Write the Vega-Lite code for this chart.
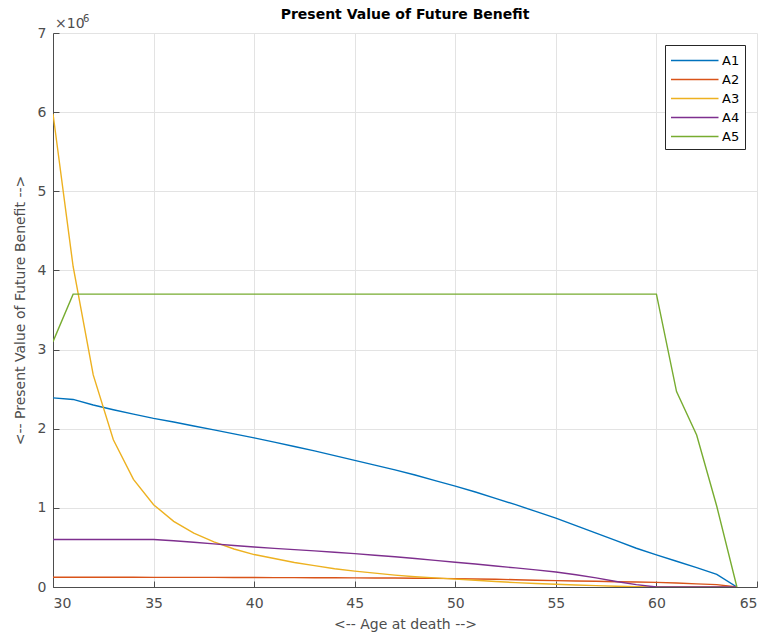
{
  "$schema": "https://vega.github.io/schema/vega-lite/v6.json",
  "width": 704,
  "height": 554,
  "autosize": {"type": "none"},
  "padding": {"left": 53, "top": 33, "right": 9, "bottom": 55},
  "background": "white",
  "title": {"text": "Present Value of Future Benefit", "font": "DejaVu Sans", "fontSize": 14, "fontWeight": "bold", "color": "#000000", "offset": -8},
  "config": {
    "view": {"stroke": null},
    "axis": {"labelFont": "DejaVu Sans", "titleFont": "DejaVu Sans", "labelFontSize": 14, "titleFontSize": 14, "labelColor": "#4d4d4d", "titleColor": "#4d4d4d", "titleFontWeight": "normal", "domainColor": "#4d4d4d", "tickColor": "#4d4d4d", "gridColor": "#e3e3e3", "gridWidth": 1, "domainWidth": 1}
  },
  "datasets": {
    "main": [
      {"age":30,"series":"A1","value":2390000},{"age":31,"series":"A1","value":2370000},{"age":32,"series":"A1","value":2300000},{"age":33,"series":"A1","value":2240000},{"age":34,"series":"A1","value":2185000},{"age":35,"series":"A1","value":2130000},{"age":36,"series":"A1","value":2085000},{"age":37,"series":"A1","value":2035000},{"age":38,"series":"A1","value":1985000},{"age":39,"series":"A1","value":1935000},{"age":40,"series":"A1","value":1885000},{"age":41,"series":"A1","value":1830000},{"age":42,"series":"A1","value":1775000},{"age":43,"series":"A1","value":1720000},{"age":44,"series":"A1","value":1660000},{"age":45,"series":"A1","value":1600000},{"age":46,"series":"A1","value":1540000},{"age":47,"series":"A1","value":1480000},{"age":48,"series":"A1","value":1415000},{"age":49,"series":"A1","value":1345000},{"age":50,"series":"A1","value":1275000},{"age":51,"series":"A1","value":1200000},{"age":52,"series":"A1","value":1120000},{"age":53,"series":"A1","value":1040000},{"age":54,"series":"A1","value":955000},{"age":55,"series":"A1","value":870000},{"age":56,"series":"A1","value":775000},{"age":57,"series":"A1","value":680000},{"age":58,"series":"A1","value":585000},{"age":59,"series":"A1","value":490000},{"age":60,"series":"A1","value":405000},{"age":61,"series":"A1","value":325000},{"age":62,"series":"A1","value":245000},{"age":63,"series":"A1","value":160000},{"age":64,"series":"A1","value":0},
      {"age":30,"series":"A2","value":123000},{"age":31,"series":"A2","value":123000},{"age":32,"series":"A2","value":123000},{"age":33,"series":"A2","value":123000},{"age":34,"series":"A2","value":123000},{"age":35,"series":"A2","value":122000},{"age":36,"series":"A2","value":122000},{"age":37,"series":"A2","value":122000},{"age":38,"series":"A2","value":121000},{"age":39,"series":"A2","value":120000},{"age":40,"series":"A2","value":120000},{"age":41,"series":"A2","value":119000},{"age":42,"series":"A2","value":118000},{"age":43,"series":"A2","value":117000},{"age":44,"series":"A2","value":116000},{"age":45,"series":"A2","value":115000},{"age":46,"series":"A2","value":114000},{"age":47,"series":"A2","value":113000},{"age":48,"series":"A2","value":111000},{"age":49,"series":"A2","value":109000},{"age":50,"series":"A2","value":106000},{"age":51,"series":"A2","value":102000},{"age":52,"series":"A2","value":97000},{"age":53,"series":"A2","value":92000},{"age":54,"series":"A2","value":86000},{"age":55,"series":"A2","value":80000},{"age":56,"series":"A2","value":76000},{"age":57,"series":"A2","value":72000},{"age":58,"series":"A2","value":67000},{"age":59,"series":"A2","value":63000},{"age":60,"series":"A2","value":58000},{"age":61,"series":"A2","value":50000},{"age":62,"series":"A2","value":40000},{"age":63,"series":"A2","value":30000},{"age":64,"series":"A2","value":0},
      {"age":30,"series":"A3","value":5980000},{"age":31,"series":"A3","value":4050000},{"age":32,"series":"A3","value":2680000},{"age":33,"series":"A3","value":1860000},{"age":34,"series":"A3","value":1360000},{"age":35,"series":"A3","value":1040000},{"age":36,"series":"A3","value":830000},{"age":37,"series":"A3","value":680000},{"age":38,"series":"A3","value":570000},{"age":39,"series":"A3","value":480000},{"age":40,"series":"A3","value":410000},{"age":41,"series":"A3","value":360000},{"age":42,"series":"A3","value":310000},{"age":43,"series":"A3","value":270000},{"age":44,"series":"A3","value":230000},{"age":45,"series":"A3","value":200000},{"age":46,"series":"A3","value":175000},{"age":47,"series":"A3","value":150000},{"age":48,"series":"A3","value":130000},{"age":49,"series":"A3","value":115000},{"age":50,"series":"A3","value":100000},{"age":51,"series":"A3","value":85000},{"age":52,"series":"A3","value":70000},{"age":53,"series":"A3","value":55000},{"age":54,"series":"A3","value":45000},{"age":55,"series":"A3","value":35000},{"age":56,"series":"A3","value":25000},{"age":57,"series":"A3","value":18000},{"age":58,"series":"A3","value":10000},{"age":59,"series":"A3","value":5000},{"age":60,"series":"A3","value":0},{"age":61,"series":"A3","value":0},{"age":62,"series":"A3","value":0},{"age":63,"series":"A3","value":0},{"age":64,"series":"A3","value":0},
      {"age":30,"series":"A4","value":600000},{"age":31,"series":"A4","value":600000},{"age":32,"series":"A4","value":600000},{"age":33,"series":"A4","value":600000},{"age":34,"series":"A4","value":600000},{"age":35,"series":"A4","value":600000},{"age":36,"series":"A4","value":585000},{"age":37,"series":"A4","value":565000},{"age":38,"series":"A4","value":545000},{"age":39,"series":"A4","value":525000},{"age":40,"series":"A4","value":505000},{"age":41,"series":"A4","value":488000},{"age":42,"series":"A4","value":472000},{"age":43,"series":"A4","value":456000},{"age":44,"series":"A4","value":440000},{"age":45,"series":"A4","value":422000},{"age":46,"series":"A4","value":402000},{"age":47,"series":"A4","value":382000},{"age":48,"series":"A4","value":360000},{"age":49,"series":"A4","value":336000},{"age":50,"series":"A4","value":312000},{"age":51,"series":"A4","value":290000},{"age":52,"series":"A4","value":266000},{"age":53,"series":"A4","value":241000},{"age":54,"series":"A4","value":216000},{"age":55,"series":"A4","value":190000},{"age":56,"series":"A4","value":155000},{"age":57,"series":"A4","value":115000},{"age":58,"series":"A4","value":70000},{"age":59,"series":"A4","value":30000},{"age":60,"series":"A4","value":0},{"age":61,"series":"A4","value":0},{"age":62,"series":"A4","value":0},{"age":63,"series":"A4","value":0},{"age":64,"series":"A4","value":0},
      {"age":30,"series":"A5","value":3100000},{"age":31,"series":"A5","value":3700000},{"age":32,"series":"A5","value":3700000},{"age":33,"series":"A5","value":3700000},{"age":34,"series":"A5","value":3700000},{"age":35,"series":"A5","value":3700000},{"age":36,"series":"A5","value":3700000},{"age":37,"series":"A5","value":3700000},{"age":38,"series":"A5","value":3700000},{"age":39,"series":"A5","value":3700000},{"age":40,"series":"A5","value":3700000},{"age":41,"series":"A5","value":3700000},{"age":42,"series":"A5","value":3700000},{"age":43,"series":"A5","value":3700000},{"age":44,"series":"A5","value":3700000},{"age":45,"series":"A5","value":3700000},{"age":46,"series":"A5","value":3700000},{"age":47,"series":"A5","value":3700000},{"age":48,"series":"A5","value":3700000},{"age":49,"series":"A5","value":3700000},{"age":50,"series":"A5","value":3700000},{"age":51,"series":"A5","value":3700000},{"age":52,"series":"A5","value":3700000},{"age":53,"series":"A5","value":3700000},{"age":54,"series":"A5","value":3700000},{"age":55,"series":"A5","value":3700000},{"age":56,"series":"A5","value":3700000},{"age":57,"series":"A5","value":3700000},{"age":58,"series":"A5","value":3700000},{"age":59,"series":"A5","value":3700000},{"age":60,"series":"A5","value":3700000},{"age":61,"series":"A5","value":2470000},{"age":62,"series":"A5","value":1920000},{"age":63,"series":"A5","value":1020000},{"age":64,"series":"A5","value":0}
    ],
    "exp": [{"age": 30, "value": 7000000, "base": "×10", "sup": "6"}]
  },
  "layer": [
    {
      "data": {"name": "main"},
      "mark": {"type": "line", "strokeWidth": 1.4, "clip": true},
      "encoding": {
        "x": {"field": "age", "type": "quantitative", "scale": {"domain": [30, 65], "nice": false, "zero": false},
          "axis": {"title": "<-- Age at death -->", "values": [30,35,40,45,50,55,60,65], "tickSize": -6, "labelPadding": 15, "titlePadding": 7, "grid": true}},
        "y": {"field": "value", "type": "quantitative", "scale": {"domain": [0, 7000000], "nice": false},
          "axis": {"title": "<-- Present Value of Future Benefit -->", "values": [0,1000000,2000000,3000000,4000000,5000000,6000000,7000000], "labelExpr": "format(datum.value/1000000, 'd')", "tickSize": -6, "labelPadding": 13, "titlePadding": 10, "grid": true}},
        "color": {"field": "series", "type": "nominal",
          "scale": {"domain": ["A1","A2","A3","A4","A5"], "range": ["#0072BD","#D95319","#EDB120","#7E2F8E","#77AC30"]},
          "legend": {"title": null, "orient": "top-right", "offset": 12, "symbolType": "M-1,0H4", "symbolSize": 361, "symbolStrokeWidth": 1.5, "labelFont": "DejaVu Sans", "labelFontSize": 13, "labelColor": "#000000", "strokeColor": "#262626", "fillColor": "#ffffff", "padding": 5, "rowPadding": 1, "labelOffset": 31}}
      }
    },
    {
      "data": {"name": "exp"},
      "mark": {"type": "text", "align": "left", "baseline": "bottom", "dx": 2, "dy": -2, "font": "DejaVu Sans", "fontSize": 14, "color": "#4d4d4d"},
      "encoding": {
        "x": {"field": "age", "type": "quantitative"},
        "y": {"field": "value", "type": "quantitative"},
        "text": {"field": "base"}
      }
    },
    {
      "data": {"name": "exp"},
      "mark": {"type": "text", "align": "left", "baseline": "bottom", "dx": 30, "dy": -9, "font": "DejaVu Sans", "fontSize": 10, "color": "#4d4d4d"},
      "encoding": {
        "x": {"field": "age", "type": "quantitative"},
        "y": {"field": "value", "type": "quantitative"},
        "text": {"field": "sup"}
      }
    }
  ]
}
